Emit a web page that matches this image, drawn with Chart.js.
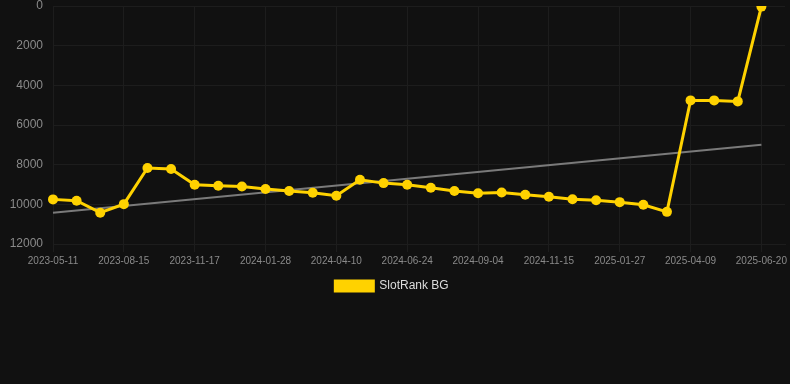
<!DOCTYPE html>
<html>
<head>
<meta charset="utf-8">
<script src="https://cdn.jsdelivr.net/npm/chart.js@4"></script>
<style>
    html, body { margin: 0; padding: 0; background: #111111; }
    #wrap { width: 790px; height: 302px; }
</style>
</head>
<body>
<div id="wrap"><canvas id="rankChart"></canvas></div>
<script>
// Dates on the x axis (only every 3rd one is printed)
const dates = [
    '2023-05-11', '2023-06-12', '2023-07-14', '2023-08-15', '2023-09-16', '2023-10-18',
    '2023-11-17', '2023-12-11', '2024-01-04', '2024-01-28', '2024-02-21', '2024-03-16',
    '2024-04-10', '2024-05-05', '2024-05-30', '2024-06-24', '2024-07-18', '2024-08-11',
    '2024-09-04', '2024-09-28', '2024-10-22', '2024-11-15', '2024-12-09', '2025-01-02',
    '2025-01-27', '2025-02-20', '2025-03-16', '2025-04-09', '2025-05-03', '2025-05-27',
    '2025-06-20', '2025-07-14'
];

// Rank values (lower = better, axis is reversed)
const rankValues = [
    9750, 9820, 10420, 9990, 8170, 8220,
    9010, 9060, 9100, 9230, 9330, 9420,
    9570, 8760, 8930, 9010, 9160, 9330,
    9440, 9400, 9520, 9620, 9740, 9790,
    9890, 10025, 10380, 4760, 4760, 4810,
    30, null
];

// Trend line, start and end
const trendValues = [10420];
for (let i = 1; i < 30; i++) trendValues.push(null);
trendValues.push(6990, null);

const yTicks = [0, 2000, 4000, 6000, 8000, 10000, 12000];

const gridColor = '#1d1d1d';
Chart.defaults.font.family = 'Arial, "Liberation Sans", sans-serif';

// nudge the legend a little to the left, like the original
const legendShift = {
    id: 'legendShift',
    beforeDraw(chart) {
        if (!chart.legend._shifted) {
            chart.legend.left -= 3;
            chart.legend.right -= 3;
            chart.legend._shifted = true;
        }
    }
};

const ctx = document.getElementById('rankChart').getContext('2d');
new Chart(ctx, {
    type: 'line',
    data: {
        labels: dates,
        datasets: [
            {
                label: 'SlotRank BG',
                data: rankValues,
                borderColor: '#ffd200',
                backgroundColor: '#ffd200',
                borderWidth: 3,
                pointRadius: 5,
                pointHoverRadius: 5,
                pointBackgroundColor: '#ffd200',
                pointBorderWidth: 0,
                tension: 0
            },
            {
                label: 'trend',
                data: trendValues,
                borderColor: '#7a7a7a',
                borderWidth: 2,
                pointRadius: 0,
                spanGaps: true,
                tension: 0
            }
        ]
    },
    options: {
        responsive: true,
        maintainAspectRatio: false,
        animation: false,
        layout: { padding: 0 },
        scales: {
            x: {
                offset: false,
                grid: {
                    color: c => (c.index % 3 === 0 ? gridColor : 'transparent')
                },
                border: { color: gridColor },
                ticks: {
                    autoSkip: false,
                    maxRotation: 0,
                    color: '#8a8a8a',
                    font: { size: 10 },
                    callback: (v, i) => (i % 3 === 0 ? dates[i] : '')
                }
            },
            y: {
                reverse: true,
                min: 0,
                max: 12000,
                afterBuildTicks: axis => { axis.ticks = yTicks.map(v => ({ value: v })); },
                afterFit: axis => { axis.width = 53; },
                grid: { color: gridColor, tickColor: 'transparent', tickLength: 10 },
                border: { display: false },
                ticks: {
                    color: '#8a8a8a',
                    font: { size: 12, lineHeight: 1 },
                    padding: 0,
                    callback: v => String(v)
                }
            }
        },
        plugins: {
            legend: {
                position: 'bottom',
                labels: {
                    color: '#dddddd',
                    font: { size: 12 },
                    boxWidth: 38,
                    boxHeight: 10,
                    filter: item => item.text === 'SlotRank BG'
                }
            },
            tooltip: { enabled: false }
        }
    },
    plugins: [legendShift]
});
</script>
</body>
</html>
